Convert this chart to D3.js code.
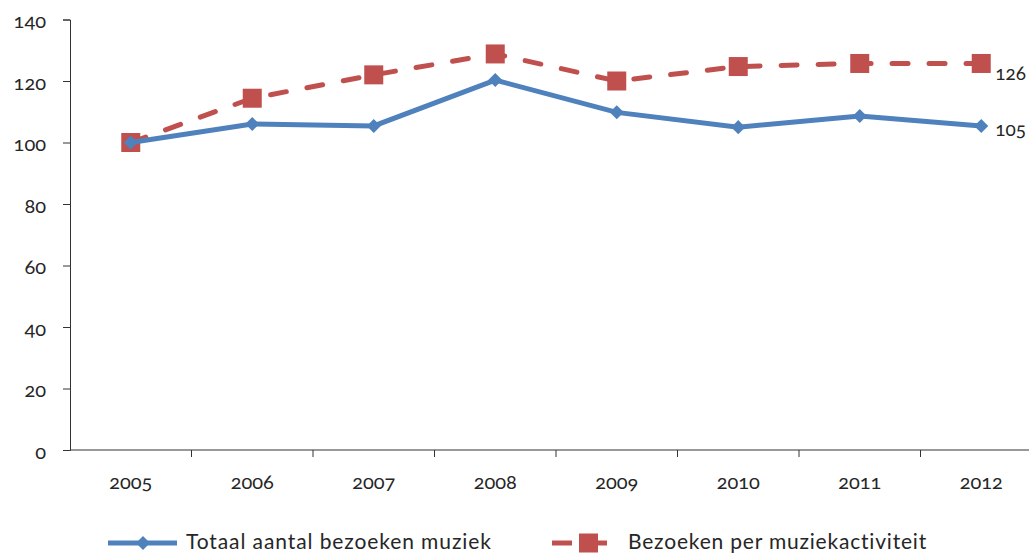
<!DOCTYPE html>
<html>
<head>
<meta charset="utf-8">
<script src="https://cdn.jsdelivr.net/npm/d3@7"></script>
<style>
  body { margin: 0; background: #fff; overflow: hidden; }
  svg text { font-family: Lato, "Open Sans", sans-serif; font-feature-settings: "onum" 1; fill: #262626; }
</style>
</head>
<body>
<svg id="chart" width="1029" height="553"></svg>
<script>
const years = ["2005", "2006", "2007", "2008", "2009", "2010", "2011", "2012"];
const totaal = [100, 106, 105.4, 120.3, 109.8, 105, 108.6, 105.4];
const perActiviteit = [100, 114.4, 122, 128.8, 120, 124.7, 125.7, 125.7];
const yTicks = [0, 20, 40, 60, 80, 100, 120, 140];
const endLabels = ["105", "126"];
const legendNames = ["Totaal aantal bezoeken muziek", "Bezoeken per muziekactiviteit"];

const blue = '#4f81bd', red = '#c0504d';
const svg = d3.select('#chart');

// band scale, the last band runs past the right edge as in the original
const x = d3.scaleBand().domain(years).range([70, 1042]);
const y = d3.scaleLinear().domain([0, 140]).range([450, 19.5]);

const chart = svg.append('g');

// y axis
const yAxis = d3.axisLeft(y).tickValues(yTicks).tickSize(7).tickPadding(17);
chart.append('g').attr('transform', 'translate(70,0)').call(yAxis)
  .call(g => g.selectAll('text').style('font-size', '20px').attr('dy', '0.4em'));

// x axis, ticks sit between the categories
const xAxis = d3.axisBottom(x).tickSize(0).tickPadding(25);
const gx = chart.append('g').attr('transform', 'translate(0,450)').call(xAxis);
gx.selectAll('text').style('font-size', '20px');
gx.select('.domain').attr('d', 'M70,0H1029');
gx.selectAll('.sep')
  .data(years)
  .enter().append('line')
  .attr('x1', d => x(d) + x.bandwidth())
  .attr('x2', d => x(d) + x.bandwidth())
  .attr('y1', 0).attr('y2', 7)
  .attr('stroke', '#333');

chart.selectAll('.domain, .tick line').attr('stroke', '#333');

const cx = d => x(d) + x.bandwidth() / 2;
const line = d3.line().x((d, i) => cx(years[i])).y(d => y(d));

// red dashed series
chart.append('path')
  .datum(perActiviteit)
  .attr('fill', 'none')
  .attr('stroke', red)
  .attr('stroke-width', 5)
  .attr('stroke-linecap', 'round')
  .attr('stroke-dasharray', '16,21')
  .attr('d', line);
chart.selectAll('.sq')
  .data(perActiviteit)
  .enter().append('rect')
  .attr('x', (d, i) => cx(years[i]) - 9.5)
  .attr('y', d => y(d) - 9.5)
  .attr('width', 19).attr('height', 19)
  .attr('fill', red);

// blue series
chart.append('path')
  .datum(totaal)
  .attr('fill', 'none')
  .attr('stroke', blue)
  .attr('stroke-width', 5)
  .attr('d', line);
const diamond = d3.symbol().type(d3.symbolDiamond2).size(125);
chart.selectAll('.dm')
  .data(totaal)
  .enter().append('path')
  .attr('d', diamond)
  .attr('transform', (d, i) => 'translate(' + cx(years[i]) + ',' + y(d) + ')')
  .attr('fill', blue);

// end labels (pulled in a little so they stay inside the frame)
const last = years.length - 1;
const labelDy = [10, 17];
[totaal[last], perActiviteit[last]].forEach((v, i) => {
  chart.append('text')
    .attr('x', cx(years[last]) + 14)
    .attr('y', y(v) + labelDy[i])
    .style('font-size', '19px')
    .text(endLabels[i]);
});

// legend
const legend = svg.append('g').attr('transform', 'translate(0,543)');
legend.append('line')
  .attr('x1', 108).attr('x2', 177).attr('y1', 0).attr('y2', 0)
  .attr('stroke', blue).attr('stroke-width', 5);
legend.append('path').attr('d', diamond).attr('transform', 'translate(143,0)').attr('fill', blue);
legend.append('text').attr('x', 186).attr('y', 5.5)
  .style('font-size', '21px').style('letter-spacing', '0.9px').text(legendNames[0]);

legend.append('line')
  .attr('x1', 552).attr('x2', 607).attr('y1', 0).attr('y2', 0)
  .attr('stroke', red).attr('stroke-width', 5).attr('stroke-dasharray', '20,25,10');
legend.append('rect').attr('x', 579).attr('y', -9.5).attr('width', 19).attr('height', 19).attr('fill', red);
legend.append('text').attr('x', 628).attr('y', 5.5)
  .style('font-size', '21px').style('letter-spacing', '0.8px').text(legendNames[1]);
</script>
</body>
</html>
